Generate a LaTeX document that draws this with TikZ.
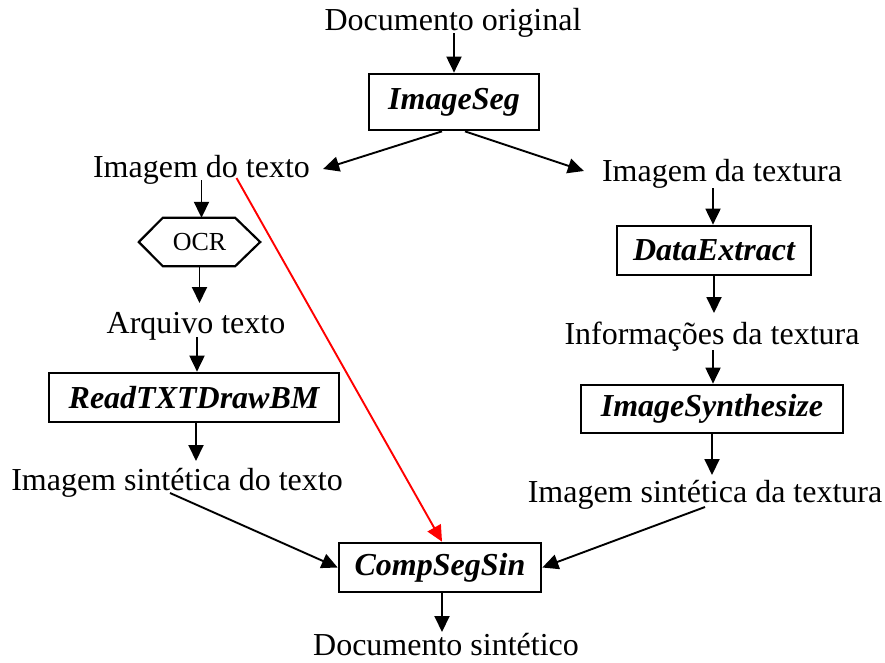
\documentclass[tikz,border=0pt]{standalone}
\usepackage{fontspec}
\setmainfont{Liberation Serif}
\usetikzlibrary{arrows.meta,calc}
\begin{document}
\begin{tikzpicture}[x=1pt,y=-1pt,
  lbl/.style={inner sep=0pt, anchor=base, font=\fontsize{32}{38}\selectfont},
  proc/.style={draw, line width=2.7pt, inner sep=0pt,
    font=\fontsize{32}{38}\selectfont\bfseries\itshape},
  arr/.style={line width=1.9pt, -{Triangle[length=16pt,width=15pt]}},
]
\useasboundingbox (0,0) rectangle (885,662);

% top of the flow
\node[lbl] (docorig) at (453,30) {Documento original};
\node[proc, minimum width=170pt, minimum height=56pt] (imageseg) at (454,102) {ImageSeg};
\node[lbl] (imgtexto) at (201.5,177) {Imagem do texto};
\node[lbl] (imgtextura) at (722,181) {Imagem da textura};

% text branch
\node[inner sep=0pt, minimum width=121pt, minimum height=48pt,
      font=\fontsize{26}{30}\selectfont] (ocr) at (199.5,242) {OCR};
\node[lbl] (arquivo) at (196,333) {Arquivo texto};
\node[proc, minimum width=290pt, minimum height=49pt] (readtxt) at (194,397.5) {ReadTXTDrawBM};
\node[lbl] (sinttexto) at (177,490) {Imagem sintética do texto};

% texture branch
\node[proc, minimum width=194pt, minimum height=49pt] (dataextract) at (714,250.5) {DataExtract};
\node[lbl] (infotextura) at (712,344) {Informações da textura};
\node[proc, minimum width=262pt, minimum height=48pt] (imgsynth) at (712,409) {ImageSynthesize};
\node[lbl] (sinttextura) at (705,502) {Imagem sintética da textura};

% composition
\node[proc, minimum width=202pt, minimum height=49pt] (compseg) at (440,567.5) {CompSegSin};
\node[lbl] (docsint) at (446,655) {Documento sintético};

% OCR hexagon
\draw[line width=2.2pt] (ocr.west) -- ($(ocr.north west)+(24,0)$) -- ($(ocr.north east)+(-25,0)$)
  -- (ocr.east) -- ($(ocr.south east)+(-25,0)$) -- ($(ocr.south west)+(24,0)$) -- cycle;

% connectors
\draw[arr] ($(docorig.base -| imageseg.north)+(0,3)$) -- (imageseg.north);
\draw[arr] ($(imageseg.south)+(-12,0)$) -- ($(imgtexto.base east)+(13,-8)$);
\draw[arr] ($(imageseg.south)+(11,0)$) -- ($(imgtextura.base west)+(-18,-10)$);

\draw[arr] ($(imgtexto.base -| ocr.north)+(2,3)$) -- ($(ocr.north)+(2,0)$);
\draw[arr] (ocr.south) -- ($(arquivo.base -| ocr.south)+(0,-30)$);
\draw[arr] ($(arquivo.base)+(1,4)$) -- ($(readtxt.north)+(3,0)$);
\draw[arr] ($(readtxt.south)+(2,0)$) -- ($(sinttexto.base -| readtxt.south)+(2,-29)$);

\draw[arr] ($(imgtextura.base -| dataextract.north)+(-1,7)$) -- ($(dataextract.north)+(-1,0)$);
\draw[arr] (dataextract.south) -- ($(infotextura.base -| dataextract.south)+(0,-31)$);
\draw[arr] ($(infotextura.base -| imgsynth.north)+(1,6)$) -- ($(imgsynth.north)+(1,0)$);
\draw[arr] (imgsynth.south) -- ($(sinttextura.base -| imgsynth.south)+(0,-27)$);

\draw[arr] ($(sinttexto.base)+(-7,3)$) -- (compseg.west);
\draw[arr] ($(sinttextura.base)+(0,5)$) -- (compseg.east);
\draw[arr, red] ($(imgtexto.base)+(35,1)$) -- ($(compseg.north)+(2,0)$);
\draw[arr] ($(compseg.south)+(2,0)$) -- ($(docsint.base -| compseg.south)+(2,-23)$);
\end{tikzpicture}
\end{document}
